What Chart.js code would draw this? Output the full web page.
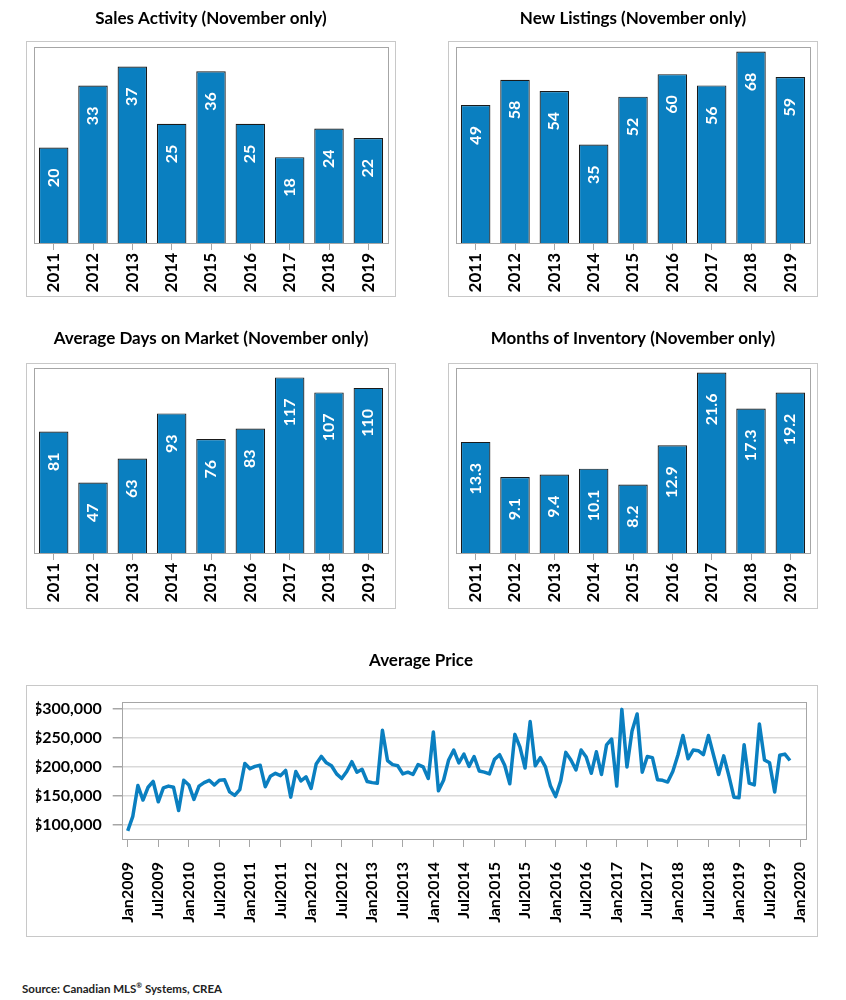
<!DOCTYPE html>
<html lang="en">

<head>
    <meta charset="UTF-8">
    <title>November Market Summary</title>
    <script src="https://cdn.jsdelivr.net/npm/chart.js"></script>
    <style>
        body {
            margin: 0;
            background: #fff;
            font-family: Lato, sans-serif;
        }

        #page {
            position: relative;
            width: 846px;
            height: 1000px;
        }

        .frame {
            position: absolute;
            border: 1px solid #c8c8c8;
            box-sizing: border-box;
        }

        canvas {
            position: absolute;
        }

        #source {
            position: absolute;
            left: 22px;
            top: 981px;
            font-size: 11.5px;
            font-weight: bold;
            color: #222;
        }

        #source sup {
            font-size: 7px;
        }
    </style>
</head>

<body>
    <div id="page">
        <div class="frame" style="left:26px;top:41px;width:370px;height:256px"></div>
        <div class="frame" style="left:448px;top:41px;width:370px;height:256px"></div>
        <div class="frame" style="left:26px;top:363px;width:370px;height:246px"></div>
        <div class="frame" style="left:448px;top:363px;width:370px;height:246px"></div>
        <div class="frame" style="left:26px;top:685px;width:792px;height:252px"></div>

        <canvas id="sales" width="423" height="310" style="left:0;top:0"></canvas>
        <canvas id="listings" width="423" height="310" style="left:423px;top:0"></canvas>
        <canvas id="days" width="423" height="300" style="left:0;top:320px"></canvas>
        <canvas id="inventory" width="423" height="300" style="left:423px;top:320px"></canvas>
        <canvas id="price" width="846" height="310" style="left:0;top:640px"></canvas>

        <div id="source">Source: Canadian MLS<sup>®</sup> Systems, CREA</div>
    </div>

    <script>
        const years = ['2011', '2012', '2013', '2014', '2015', '2016', '2017', '2018', '2019'];
        const salesActivity = [20, 33, 37, 25, 36, 25, 18, 24, 22];
        const newListings = [49, 58, 54, 35, 52, 60, 56, 68, 59];
        const daysOnMarket = [81, 47, 63, 93, 76, 83, 117, 107, 110];
        const monthsInventory = [13.3, 9.1, 9.4, 10.1, 8.2, 12.9, 21.6, 17.3, 19.2];

        // monthly average price, Jan2009 .. Nov2019
        const avgPrice = [
            90000, 115000, 168000, 143000, 165000, 175000, 140000, 164000, 167000, 165000, 125000, 177000,
            169000, 144000, 167000, 173000, 177000, 169000, 177000, 178000, 157000, 151000, 161000, 206000,
            197000, 201000, 203000, 166000, 184000, 189000, 185000, 194000, 148000, 192000, 176000, 183000,
            163000, 205000, 218000, 207000, 202000, 188000, 180000, 192000, 209000, 191000, 196000, 175000,
            173000, 172000, 263000, 211000, 204000, 202000, 188000, 191000, 187000, 204000, 200000, 180000,
            260000, 159000, 177000, 212000, 229000, 207000, 222000, 201000, 218000, 193000, 191000, 188000,
            213000, 221000, 203000, 171000, 256000, 234000, 198000, 278000, 202000, 216000, 200000, 167000,
            149000, 176000, 225000, 212000, 195000, 229000, 217000, 189000, 226000, 187000, 238000, 248000,
            167000, 299000, 200000, 262000, 291000, 191000, 218000, 216000, 178000, 177000, 174000, 192000,
            220000, 254000, 214000, 229000, 228000, 221000, 254000, 220000, 187000, 219000, 185000, 148000,
            147000, 238000, 172000, 169000, 274000, 212000, 207000, 157000, 220000, 222000, 211000
        ];
        const priceTickLabels = [
            'Jan2009', 'Jul2009', 'Jan2010', 'Jul2010', 'Jan2011', 'Jul2011', 'Jan2012', 'Jul2012',
            'Jan2013', 'Jul2013', 'Jan2014', 'Jul2014', 'Jan2015', 'Jul2015', 'Jan2016', 'Jul2016',
            'Jan2017', 'Jul2017', 'Jan2018', 'Jul2018', 'Jan2019', 'Jul2019', 'Jan2020'
        ];
        const priceTicks = [100000, 150000, 200000, 250000, 300000];

        const BLUE = '#0a7fc0';
        Chart.defaults.font.family = 'Lato, sans-serif';
        Chart.defaults.color = '#000';
        Chart.defaults.animation = false;

        // gray box round the plot area
        const plotBox = {
            id: 'plotBox',
            beforeDatasetsDraw(chart) {
                const a = chart.chartArea, ctx = chart.ctx;
                ctx.save();
                ctx.strokeStyle = '#a6a6a6';
                ctx.lineWidth = 1;
                ctx.strokeRect(Math.round(a.left) + 0.5, Math.round(a.top) + 0.5,
                    Math.round(a.right - a.left), Math.round(a.bottom - a.top));
                ctx.restore();
            }
        };

        // white rotated value labels inside the top of each bar
        const barLabels = {
            id: 'barLabels',
            afterDatasetsDraw(chart) {
                const ctx = chart.ctx;
                const values = chart.data.datasets[0].data;
                chart.getDatasetMeta(0).data.forEach((bar, i) => {
                    ctx.save();
                    ctx.translate(bar.x, bar.y + 21);
                    ctx.rotate(-Math.PI / 2);
                    ctx.font = 'bold 16px Lato, sans-serif';
                    ctx.fillStyle = '#fff';
                    ctx.textAlign = 'right';
                    ctx.textBaseline = 'middle';
                    ctx.fillText(String(values[i]), 0, 0);
                    ctx.restore();
                });
            }
        };

        function barChart(id, title, values, max, pad, titlePad) {
            return new Chart(document.getElementById(id), {
                type: 'bar',
                data: {
                    labels: years,
                    datasets: [{
                        data: values,
                        backgroundColor: BLUE,
                        borderColor: '#1a1a1a',
                        borderWidth: 1.2,
                        barPercentage: 0.75,
                        categoryPercentage: 1
                    }]
                },
                options: {
                    responsive: false,
                    layout: { padding: pad },
                    plugins: {
                        legend: { display: false },
                        tooltip: { enabled: false },
                        title: {
                            display: true,
                            text: title,
                            font: { size: 17, weight: 'bold' },
                            color: '#000',
                            padding: titlePad
                        }
                    },
                    scales: {
                        x: {
                            afterFit(scale) { scale.height = 67; },
                            border: { display: false },
                            grid: { offset: false, drawOnChartArea: false, tickLength: 7, color: '#a6a6a6' },
                            ticks: {
                                font: { size: 17, weight: 'bold' },
                                color: '#000',
                                maxRotation: 90,
                                minRotation: 90,
                                padding: 3,
                                autoSkip: false
                            }
                        },
                        y: { display: false, min: 0, max: max }
                    }
                },
                plugins: [plotBox, barLabels]
            });
        }

        barChart('sales', 'Sales Activity (November only)', salesActivity, 41,
            { left: 34, right: 35, top: 0, bottom: 0 }, { top: 8, bottom: 19 });
        barChart('listings', 'New Listings (November only)', newListings, 69.5,
            { left: 33, right: 36, top: 0, bottom: 0 }, { top: 8, bottom: 19 });
        barChart('days', 'Average Days on Market (November only)', daysOnMarket, 123,
            { left: 34, right: 35, top: 0, bottom: 0 }, { top: 8, bottom: 20 });
        barChart('inventory', 'Months of Inventory (November only)', monthsInventory, 22.1,
            { left: 33, right: 36, top: 0, bottom: 0 }, { top: 8, bottom: 20 });

        new Chart(document.getElementById('price'), {
            type: 'line',
            data: {
                datasets: [{
                    data: avgPrice.map((v, i) => ({ x: i, y: v })),
                    borderColor: BLUE,
                    borderWidth: 3.5,
                    borderJoinStyle: 'round',
                    pointRadius: 0,
                    tension: 0,
                    fill: false
                }]
            },
            options: {
                responsive: false,
                layout: { padding: { left: 36, right: 40, top: 0, bottom: 0 } },
                plugins: {
                    legend: { display: false },
                    tooltip: { enabled: false },
                    title: {
                        display: true,
                        text: 'Average Price',
                        font: { size: 17, weight: 'bold' },
                        color: '#000',
                        padding: { top: 10, bottom: 32 }
                    }
                },
                scales: {
                    x: {
                        type: 'linear',
                        min: -1.18,
                        max: 133.15,
                        afterFit(scale) { scale.height = 111; },
                        border: { display: false },
                        grid: { drawOnChartArea: false, tickLength: 8, color: '#a6a6a6' },
                        ticks: {
                            stepSize: 6,
                            includeBounds: false,
                            autoSkip: false,
                            maxRotation: 90,
                            minRotation: 90,
                            padding: 15,
                            font: { size: 16, weight: 'bold' },
                            color: '#000',
                            callback: v => priceTickLabels[Math.round(v / 6)]
                        }
                    },
                    y: {
                        min: 76000,
                        max: 311000,
                        afterFit(scale) { scale.width = 85.7; },
                        afterBuildTicks(scale) { scale.ticks = priceTicks.map(v => ({ value: v })); },
                        border: { display: false },
                        grid: { color: '#d9d9d9', lineWidth: 1.5, tickLength: 9, tickColor: '#a6a6a6' },
                        ticks: {
                            padding: 11,
                            font: { size: 16, weight: 'bold' },
                            color: '#000',
                            callback: v => '$' + v.toLocaleString('en-US')
                        }
                    }
                }
            },
            plugins: [plotBox]
        });
    </script>
</body>

</html>
